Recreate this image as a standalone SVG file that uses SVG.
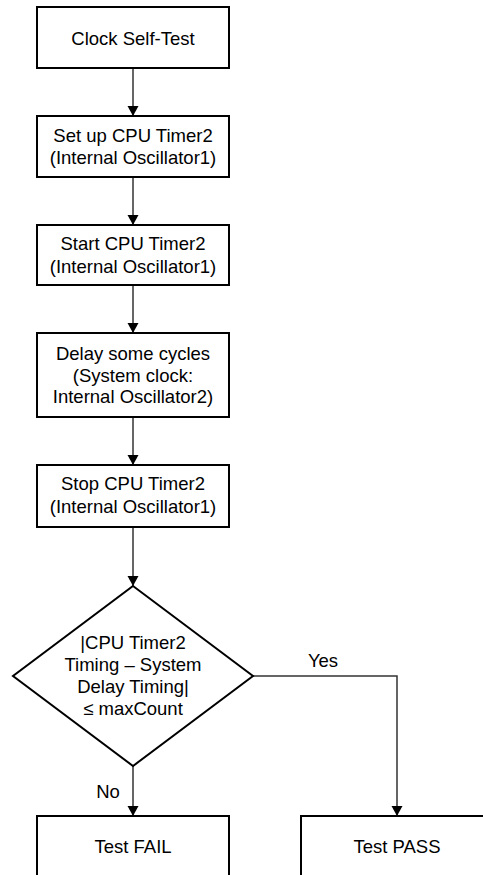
<svg xmlns="http://www.w3.org/2000/svg" width="483" height="875" viewBox="0 0 483 875">
  <defs>
    <marker id="arrow" markerWidth="10" markerHeight="12" refX="10" refY="6" orient="auto" markerUnits="userSpaceOnUse">
      <path d="M0,0.5 L10,6 L0,11.5 Z" fill="#000"/>
    </marker>
    <style>
      .box { fill: #fff; stroke: #000; stroke-width: 2; }
      .lbl { font-family: "Liberation Sans", Arial, sans-serif; font-size: 18.5px; fill: #000; text-anchor: middle; }
      .edge { fill: none; stroke: #333; stroke-width: 1.5; marker-end: url(#arrow); }
    </style>
  </defs>
  <rect width="483" height="875" fill="#fff"/>

  <g id="connectors">
    <path class="edge" d="M133,68 V116"/>
    <path class="edge" d="M133,177 V225"/>
    <path class="edge" d="M133,285 V333"/>
    <path class="edge" d="M133,417 V465"/>
    <path class="edge" d="M133,527 V586"/>
    <path class="edge" d="M133,766 V816"/>
    <path class="edge" d="M253,676 H397 V816"/>
    <text class="lbl" x="323" y="667">Yes</text>
    <text class="lbl" x="108" y="798">No</text>
  </g>

  <g id="clock-self-test">
    <rect class="box" x="37" y="7" width="192" height="61"/>
    <text class="lbl" x="133" y="44.5">Clock Self-Test</text>
  </g>

  <g id="setup-timer">
    <rect class="box" x="37" y="116" width="192" height="61"/>
    <text class="lbl" x="133" y="141.5">Set up CPU Timer2</text>
    <text class="lbl" x="133" y="163.5">(Internal Oscillator1)</text>
  </g>

  <g id="start-timer">
    <rect class="box" x="37" y="225" width="192" height="60"/>
    <text class="lbl" x="133" y="250">Start CPU Timer2</text>
    <text class="lbl" x="133" y="272.5">(Internal Oscillator1)</text>
  </g>

  <g id="delay-cycles">
    <rect class="box" x="37" y="333" width="192" height="84"/>
    <text class="lbl" x="133" y="360">Delay some cycles</text>
    <text class="lbl" x="133" y="381.7">(System clock:</text>
    <text class="lbl" x="133" y="403.4">Internal Oscillator2)</text>
  </g>

  <g id="stop-timer">
    <rect class="box" x="37" y="465" width="192" height="62"/>
    <text class="lbl" x="133" y="490">Stop CPU Timer2</text>
    <text class="lbl" x="133" y="512.5">(Internal Oscillator1)</text>
  </g>

  <g id="timing-check">
    <path class="box" d="M133,586 L253,676 L133,766 L13,676 Z"/>
    <text class="lbl" x="133" y="648.5">|CPU Timer2</text>
    <text class="lbl" x="133" y="670.5">Timing – System</text>
    <text class="lbl" x="133" y="692.5">Delay Timing|</text>
    <text class="lbl" x="133" y="714.5">≤ maxCount</text>
  </g>

  <g id="test-fail">
    <rect class="box" x="37" y="816" width="192" height="62"/>
    <text class="lbl" x="133" y="852.5">Test FAIL</text>
  </g>

  <g id="test-pass">
    <rect class="box" x="301" y="816" width="192" height="62"/>
    <text class="lbl" x="397" y="852.5">Test PASS</text>
  </g>
</svg>
